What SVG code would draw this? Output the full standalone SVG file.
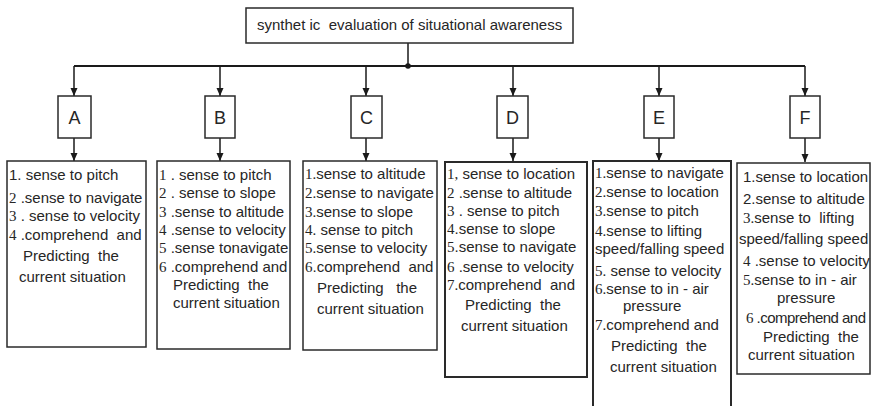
<svg xmlns="http://www.w3.org/2000/svg" width="874" height="406" viewBox="0 0 874 406">
<defs>
<marker id="arr" markerWidth="8" markerHeight="8" refX="8" refY="4" orient="auto" markerUnits="userSpaceOnUse">
<path d="M0,0.5 L8,4 L0,7.5 z" fill="#1a1a1a"/>
</marker>
<style>
.box{fill:#fff;stroke:#2a2a2a;stroke-width:1.5}
.bx2{fill:#fff;stroke:#2a2a2a;stroke-width:2}
.t{font-family:"Liberation Sans",Arial,sans-serif;font-size:15px;fill:#262626;white-space:pre}
.l{font-family:"Liberation Sans",Arial,sans-serif;font-size:18px;fill:#262626;text-anchor:middle}
.n{font-family:"Liberation Serif","Times New Roman",serif}
.c{stroke:#1a1a1a;stroke-width:1.5;fill:none}
</style>
</defs>
<rect width="874" height="406" fill="#fff"/>

<g id="connectors">
<line class="c" x1="408" y1="43" x2="408" y2="66"/>
<line x1="74" y1="66" x2="805" y2="66" stroke="#1a1a1a" stroke-width="2"/>
<circle cx="408" cy="66" r="2.8" fill="#1a1a1a"/>
<line class="c" x1="74" y1="66" x2="74" y2="96" marker-end="url(#arr)"/>
<line class="c" x1="220" y1="66" x2="220" y2="96" marker-end="url(#arr)"/>
<line class="c" x1="366" y1="66" x2="366" y2="96" marker-end="url(#arr)"/>
<line class="c" x1="513" y1="66" x2="513" y2="96" marker-end="url(#arr)"/>
<line class="c" x1="659" y1="66" x2="659" y2="96" marker-end="url(#arr)"/>
<line class="c" x1="805" y1="66" x2="805" y2="96" marker-end="url(#arr)"/>
<line class="c" x1="74" y1="138" x2="74" y2="161" marker-end="url(#arr)"/>
<line class="c" x1="220" y1="138" x2="220" y2="161" marker-end="url(#arr)"/>
<line class="c" x1="366" y1="138" x2="366" y2="161" marker-end="url(#arr)"/>
<line class="c" x1="513" y1="138" x2="513" y2="161" marker-end="url(#arr)"/>
<line class="c" x1="659" y1="138" x2="659" y2="161" marker-end="url(#arr)"/>
<line class="c" x1="805" y1="138" x2="805" y2="162" marker-end="url(#arr)"/>
</g>

<g id="root">
<rect class="box" x="246" y="8" width="327" height="35"/>
<text class="t" x="257" y="30">synthet ic  evaluation of situational awareness</text>
</g>

<g id="nodeA">
<rect class="box" x="58" y="96" width="33" height="42"/>
<text class="l" x="74.5" y="123.5">A</text>
</g>
<g id="nodeB">
<rect class="box" x="205" y="96" width="30" height="42"/>
<text class="l" x="220" y="123.5">B</text>
</g>
<g id="nodeC">
<rect class="box" x="351" y="96" width="31" height="42"/>
<text class="l" x="366.5" y="123.5">C</text>
</g>
<g id="nodeD">
<rect class="box" x="497" y="96" width="31" height="42"/>
<text class="l" x="512.5" y="123.5">D</text>
</g>
<g id="nodeE">
<rect class="box" x="644" y="96" width="30" height="42"/>
<text class="l" x="659" y="123.5">E</text>
</g>
<g id="nodeF">
<rect class="box" x="790" y="96" width="30" height="42"/>
<text class="l" x="805" y="123.5">F</text>
</g>

<g id="listA">
<rect class="box" x="7" y="161" width="139" height="186"/>
<text class="t" x="9" y="180">1. sense to pitch</text>
<text class="t" x="9" y="203"><tspan class="n">2</tspan> .sense to navigate</text>
<text class="t" x="9" y="221"><tspan class="n">3</tspan> . sense to velocity</text>
<text class="t" x="9" y="240"><tspan class="n">4</tspan> .comprehend  and</text>
<text class="t" x="23" y="261">Predicting  the</text>
<text class="t" x="19" y="282">current situation</text>
</g>

<g id="listB">
<rect class="box" x="157" y="161" width="133" height="188"/>
<text class="t" x="159" y="180"><tspan class="n">1</tspan> . sense to pitch</text>
<text class="t" x="159" y="198"><tspan class="n">2</tspan> . sense to slope</text>
<text class="t" x="159" y="217"><tspan class="n">3</tspan> .sense to altitude</text>
<text class="t" x="159" y="235"><tspan class="n">4</tspan> .sense to velocity</text>
<text class="t" x="159" y="253"><tspan class="n">5</tspan> .sense tonavigate</text>
<text class="t" x="159" y="272"><tspan class="n">6</tspan> .comprehend and</text>
<text class="t" x="173" y="290">Predicting  the</text>
<text class="t" x="173" y="308">current situation</text>
</g>

<g id="listC">
<rect class="box" x="303" y="161" width="134" height="189"/>
<text class="t" x="305" y="179"><tspan class="n">1.</tspan>sense to altitude</text>
<text class="t" x="305" y="198"><tspan class="n">2.</tspan>sense to navigate</text>
<text class="t" x="305" y="217"><tspan class="n">3.</tspan>sense to slope</text>
<text class="t" x="305" y="235"><tspan class="n">4.</tspan> sense to pitch</text>
<text class="t" x="305" y="253"><tspan class="n">5.</tspan>sense to velocity</text>
<text class="t" x="305" y="272"><tspan class="n">6</tspan>.comprehend  and</text>
<text class="t" x="317" y="293">Predicting   the</text>
<text class="t" x="317" y="314">current situation</text>
</g>

<g id="listD">
<rect class="bx2" x="445" y="162" width="142" height="215"/>
<text class="t" x="447" y="179"><tspan class="n">1,</tspan> sense to location</text>
<text class="t" x="447" y="198"><tspan class="n">2</tspan> .sense to altitude</text>
<text class="t" x="447" y="216"><tspan class="n">3</tspan> . sense to pitch</text>
<text class="t" x="447" y="234"><tspan class="n">4</tspan>.sense to slope</text>
<text class="t" x="447" y="252"><tspan class="n">5</tspan>.sense to navigate</text>
<text class="t" x="447" y="272"><tspan class="n">6</tspan> .sense to velocity</text>
<text class="t" x="447" y="290"><tspan class="n">7.</tspan>comprehend  and</text>
<text class="t" x="465" y="310">Predicting  the</text>
<text class="t" x="461" y="331">current situation</text>
</g>

<g id="listE">
<path class="bx2" d="M593,406 V161 H731 V406"/>
<text class="t" x="595" y="178"><tspan class="n">1.</tspan>sense to navigate</text>
<text class="t" x="595" y="197"><tspan class="n">2.</tspan>sense to location</text>
<text class="t" x="595" y="216"><tspan class="n">3.</tspan>sense to pitch</text>
<text class="t" x="595" y="236"><tspan class="n">4.</tspan>sense to lifting</text>
<text class="t" x="595" y="254">speed/falling speed</text>
<text class="t" x="595" y="276"><tspan class="n">5.</tspan> sense to velocity</text>
<text class="t" x="595" y="294"><tspan class="n">6.</tspan>sense to in - air</text>
<text class="t" x="623" y="311">pressure</text>
<text class="t" x="595" y="330"><tspan class="n">7.</tspan>comprehend and</text>
<text class="t" x="611" y="351">Predicting  the</text>
<text class="t" x="610" y="372">current situation</text>
</g>

<g id="listF">
<rect class="box" x="737" y="163" width="133" height="211"/>
<text class="t" x="743" y="182">1.sense to location</text>
<text class="t" x="743" y="204">2.sense to altitude</text>
<text class="t" x="743" y="223"><tspan class="n">3.</tspan>sense to  lifting</text>
<text class="t" x="739" y="244">speed/falling speed</text>
<text class="t" x="743" y="266"><tspan class="n">4</tspan> .sense to velocity</text>
<text class="t" x="743" y="285"><tspan class="n">5.</tspan>sense to in - air</text>
<text class="t" x="777" y="303">pressure</text>
<text class="t" x="746" y="323" textLength="120" lengthAdjust="spacing"><tspan class="n">6</tspan> .comprehend and</text>
<text class="t" x="763" y="342">Predicting  the</text>
<text class="t" x="748" y="360">current situation</text>
</g>
</svg>
